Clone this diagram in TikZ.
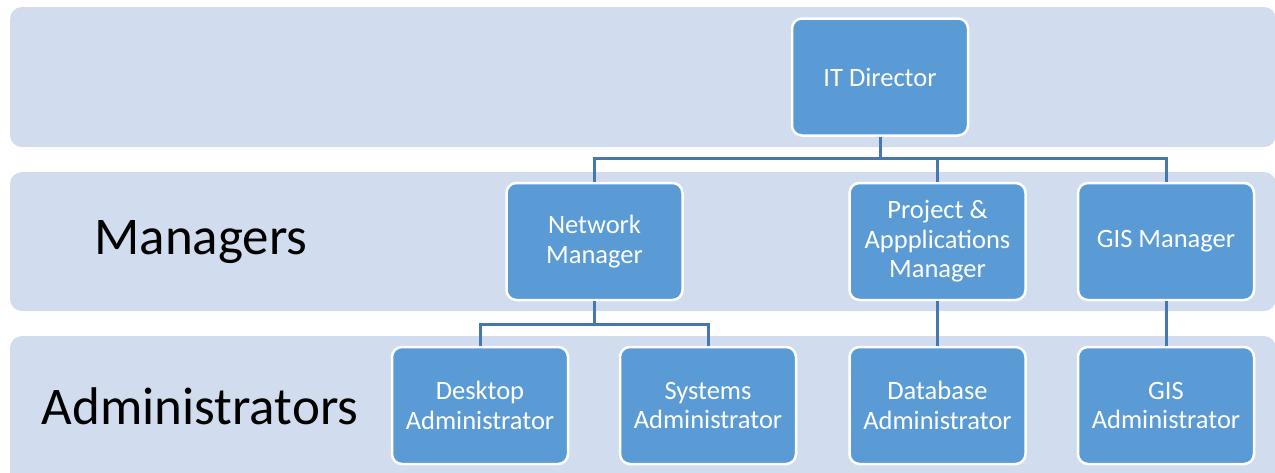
\documentclass[tikz,border=0pt]{standalone}
\usepackage{fontspec}
\setmainfont{Carlito}
\definecolor{bandfill}{HTML}{D1DCEE}
\definecolor{boxfill}{HTML}{5B9BD5}
\definecolor{connclr}{HTML}{4677AE}
\tikzset{
  band/.style={fill=bandfill, draw=none, rounded corners=12pt},
  orgbox/.style={draw=white, line width=2.5pt, fill=boxfill, rounded corners=10pt,
    minimum width=176pt, minimum height=117pt, inner sep=2pt, align=center,
    text=white, font=\fontsize{26.5}{29.5}\selectfont},
  conn/.style={draw=connclr, line width=3pt},
  tier/.style={font=\fontsize{53}{56}\selectfont, text=black, inner sep=0pt}
}
\begin{document}
\begin{tikzpicture}[x=1pt,y=-1pt]
\useasboundingbox (0,0) rectangle (1275,472);
% bands
\path[band] (10,7) rectangle (1276,147);
\path[band] (10,172) rectangle (1276,311);
\path[band] (10,336) rectangle (1276,490);
% tier labels
\node[tier] (lblman) at (201,242) {Managers};
\node[tier] (lbladm) at (200,406) {Administrators};
% boxes
\node[orgbox] (dir) at (880,77) {\raisebox{-1.5pt}{IT Director}};
\node[orgbox] (nm) at (594.5,241.5) {Network\\Manager};
\node[orgbox] (pm) at (937.5,241.5) {Project \&\\Appplications\\Manager};
\node[orgbox] (gm) at (1166,241.5) {\raisebox{-1.5pt}{GIS Manager}};
\node[orgbox] (da) at (480,405.5) {Desktop\\Administrator};
\node[orgbox] (sa) at (708,405.5) {Systems\\Administrator};
\node[orgbox] (db) at (937.5,405.5) {Database\\Administrator};
\node[orgbox] (ga) at (1166,405.5) {GIS\\Administrator};
% connectors
\draw[conn] (dir.south) -- ++(0,22) -| (nm.north);
\draw[conn] (dir.south) -- ++(0,22) -| (pm.north);
\draw[conn] (dir.south) -- ++(0,22) -| (gm.north);
\draw[conn] (nm.south) -- ++(0,23) -| (da.north);
\draw[conn] (nm.south) -- ++(0,23) -| (sa.north);
\draw[conn] (pm.south) -- (db.north);
\draw[conn] (gm.south) -- (ga.north);
\end{tikzpicture}
\end{document}
